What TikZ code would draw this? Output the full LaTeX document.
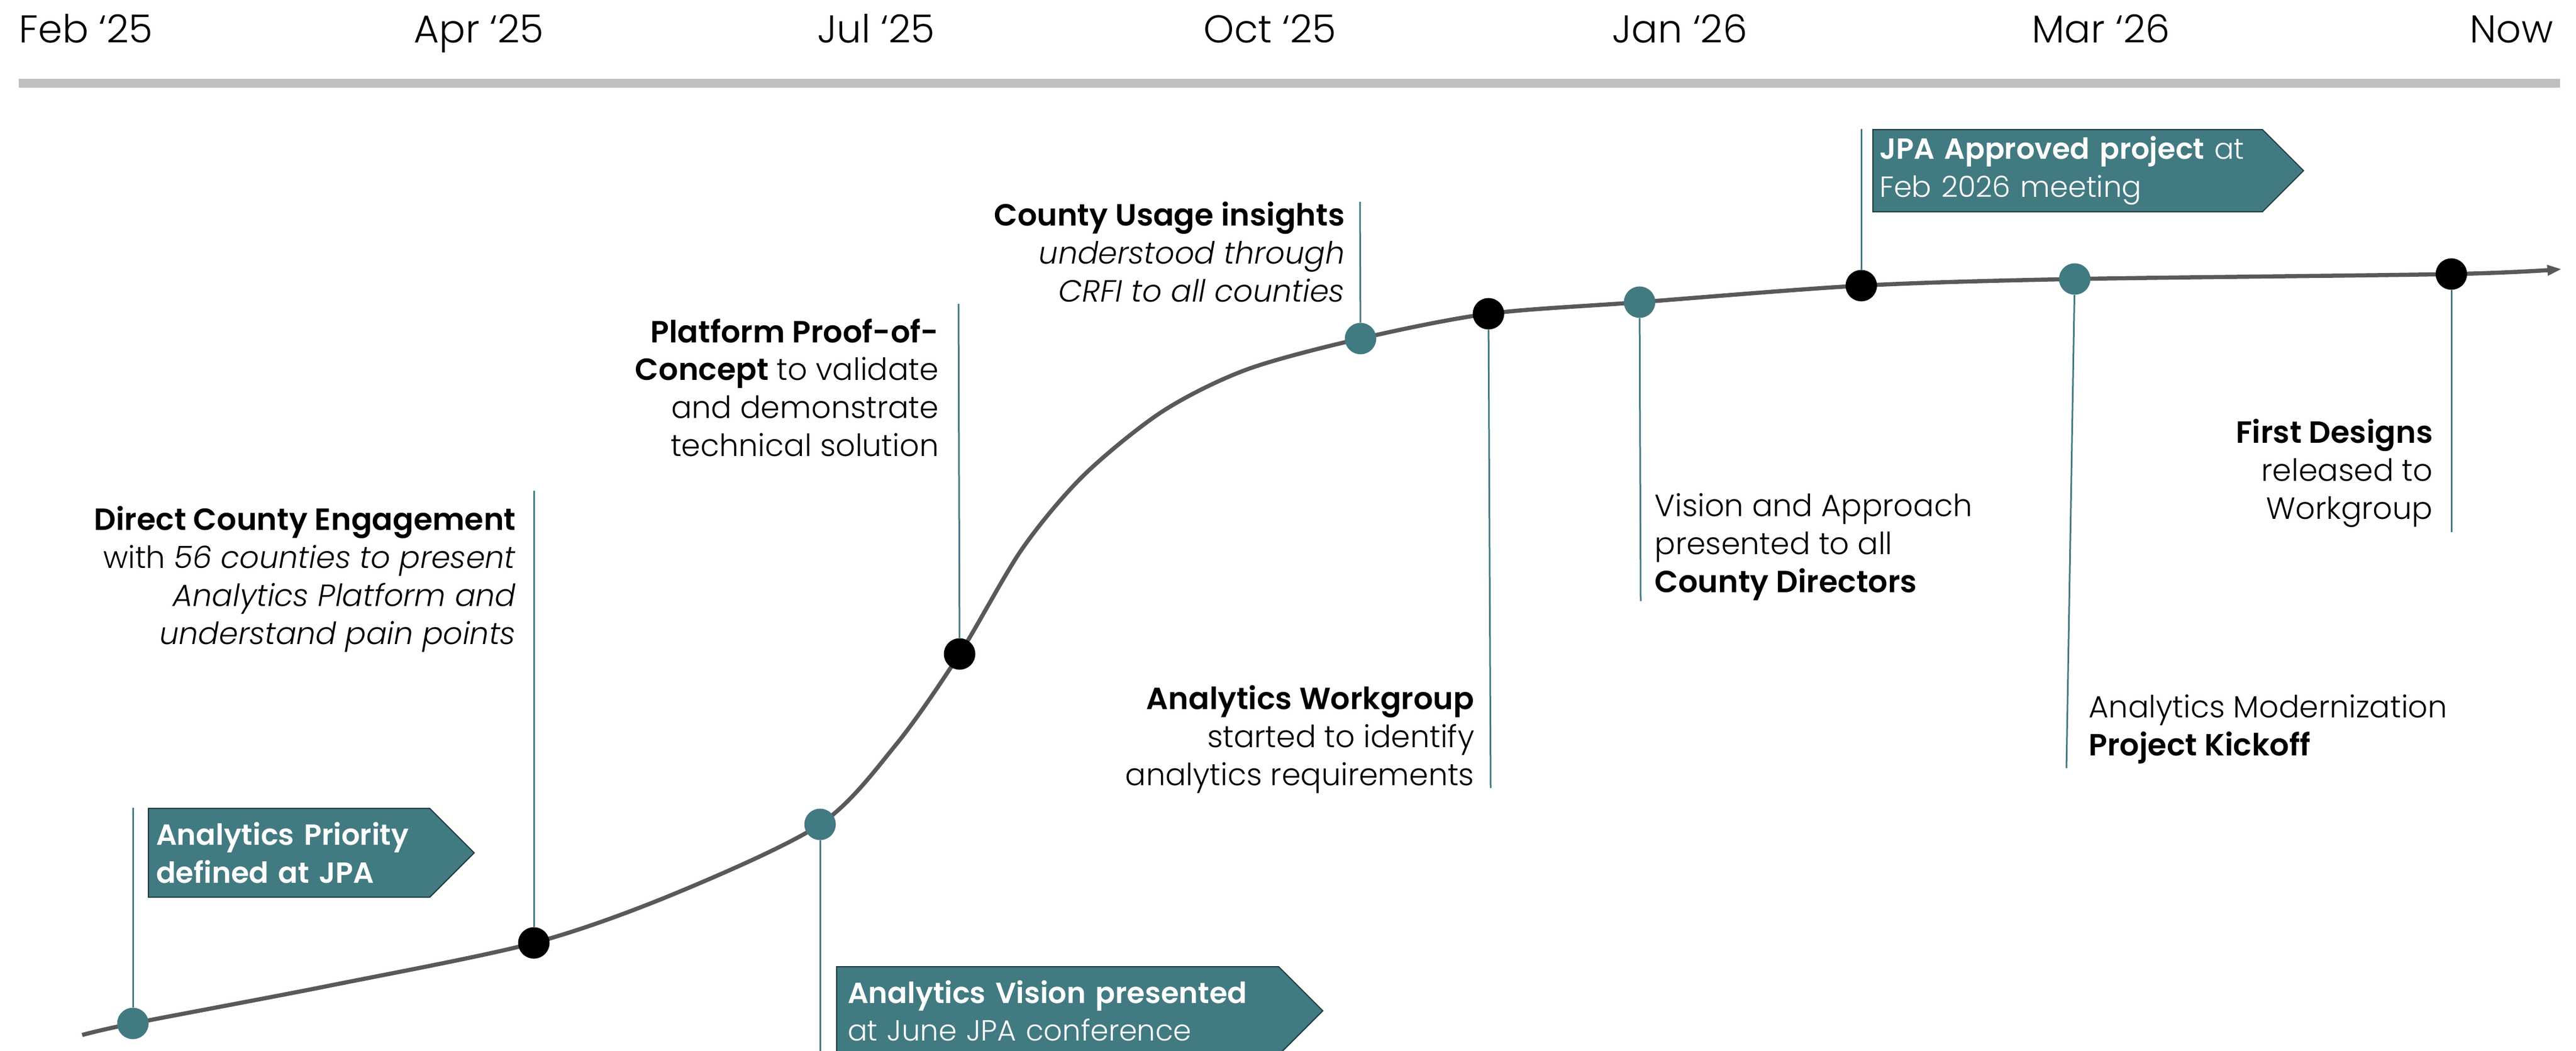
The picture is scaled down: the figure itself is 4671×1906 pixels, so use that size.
\documentclass[tikz,border=0pt]{standalone}
\usepackage{fontspec}
\setmainfont{Poppins}[UprightFont={* Light},ItalicFont={* Light Italic},BoldFont={* SemiBold},BoldItalicFont={* SemiBold Italic}]
\usepackage{xcolor}
\usetikzlibrary{shapes.symbols,arrows.meta,positioning,calc}
\definecolor{tealmark}{HTML}{427A82}
\definecolor{tealedge}{HTML}{1F3A3E}
\definecolor{trendgray}{HTML}{595959}
\definecolor{bargray}{HTML}{BFBFBF}

\begin{document}
\begin{tikzpicture}[x=0.01cm,y=-0.01cm,
  month/.style={anchor=base west,inner sep=0,font=\fontsize{20}{24}\selectfont},
  tealdot/.style={circle,fill=tealmark,inner sep=0,minimum size=0.57cm},
  blackdot/.style={circle,fill=black,inner sep=0,minimum size=0.57cm},
  stem/.style={draw=tealmark,line width=0.03cm},
  trend/.style={draw=trendgray,line width=0.075cm},
  note/.style={inner sep=0,font=\fontsize{15.8}{19.6}\selectfont},
  flag/.style={signal,signal to=east,signal pointer angle=90,fill=tealmark,
    draw=tealedge,line width=0.02cm,text=white,align=left,anchor=north west,
    inner ysep=0,font=\fontsize{15}{19.6}\selectfont}]
  \useasboundingbox (0,0) rectangle (4671,1906);
  \clip (0,0) rectangle (4671,1906);

  % months along the top
  \node[month] (feb) at (34,78) {Feb `25};
  \node[month] (apr) at (750,78) {Apr `25};
  \node[month] (jul) at (1482,78) {Jul `25};
  \node[month] (oct) at (2182,78) {Oct `25};
  \node[month] (jan) at (2923,78) {Jan `26};
  \node[month] (mar) at (3684,78) {Mar `26};
  \node[month,anchor=base east] (now) at (4630,78) {Now};
  \draw[bargray,line width=0.16cm] (34,151) -- (4642,151);

  % points on the curve
  \coordinate (p1) at (241,1856);
  \coordinate (p2) at (968,1710);
  \coordinate (p3) at (1487,1495);
  \coordinate (p4) at (1740,1186);
  \coordinate (p5) at (2467,614);
  \coordinate (p6) at (2699,569);
  \coordinate (p7) at (2973,548);
  \coordinate (p8) at (3375,518);
  \coordinate (p9) at (3762,506);
  \coordinate (p10) at (4445,497);
  \draw[trend,-{Triangle[length=0.26cm,width=0.18cm]}] plot[smooth,tension=0.5] coordinates {
    (149,1877) (p1) (600,1787) (p2) (1225,1620) (p3) (1625,1350) (p4) (1853,996)
    (1965,862) (2108,746) (2261,670) (p5) (p6) (p7) (p8) (p9) (p10) (4645,488)};

  \node[tealdot] (d1) at (p1) {};
  \node[blackdot] (d2) at (p2) {};
  \node[tealdot] (d3) at (p3) {};
  \node[blackdot] (d4) at (p4) {};
  \node[tealdot] (d5) at (p5) {};
  \node[blackdot] (d6) at (p6) {};
  \node[tealdot] (d7) at (p7) {};
  \node[blackdot] (d8) at (p8) {};
  \node[tealdot] (d9) at (p9) {};
  \node[blackdot] (d10) at (p10) {};

  % flags
  \node[flag,inner xsep=0.14cm,text width=4.82cm,minimum height=1.61cm] (priority) at (268,1465)
    {\textbf{Analytics Priority}\\\textbf{defined at JPA}};
  \node[flag,inner xsep=0.2cm,text width=7.61cm,minimum height=1.60cm] (vision) at (1516,1752)
    {\textbf{Analytics Vision presented}\\at June JPA conference};
  \node[flag,inner xsep=0.12cm,text width=6.82cm,minimum height=1.49cm] (approved) at (3395,234)
    {\textbf{JPA Approved project} at\\Feb 2026 meeting};

  % notes
  \node[note,anchor=north east,align=right] (engage) at (936,917)
    {\textbf{Direct County Engagement}\\with \textit{56 counties to present}\\\textit{Analytics Platform and}\\\textit{understand pain points}};
  \node[note,anchor=north east,align=right] (proof) at (1703,577)
    {\textbf{Platform Proof-of-}\\\textbf{Concept} to validate\\and demonstrate\\technical solution};
  \node[note,anchor=north east,align=right] (usage) at (2439,365)
    {\textbf{County Usage insights}\\\textit{understood through}\\\textit{CRFI to all counties}};
  \node[note,anchor=north east,align=right] (workgroup) at (2674,1242)
    {\textbf{Analytics Workgroup}\\started to identify\\analytics requirements};
  \node[note,anchor=north west,align=left] (approach) at (3000,894)
    {Vision and Approach\\presented to all\\\textbf{County Directors}};
  \node[note,anchor=north west,align=left] (kickoff) at (3787,1259)
    {Analytics Modernization\\\textbf{Project Kickoff}};
  \node[note,anchor=north east,align=right] (designs) at (4412,759)
    {\textbf{First Designs}\\released to\\Workgroup};

  % stems
  \coordinate (engage-top) at (968,890);
  \coordinate (vision-end) at (1487,1920);
  \coordinate (proof-top) at (1738,551);
  \coordinate (usage-top) at (2466,366);
  \coordinate (workgroup-end) at (2703,1429);
  \coordinate (approach-end) at (2975,1090);
  \coordinate (kickoff-end) at (3747,1393);
  \coordinate (designs-end) at (4445,965);
  \draw[stem] (d1) -- (d1 |- priority.north);
  \draw[stem] (d2) -- (engage-top);
  \draw[stem] (d3) -- (vision-end);
  \draw[stem] (d4) -- (proof-top);
  \draw[stem] (d5) -- (usage-top);
  \draw[stem] (d6) -- (workgroup-end);
  \draw[stem] (d7) -- (approach-end);
  \draw[stem] (d8) -- (d8 |- approved.north);
  \draw[stem] (d9) -- (kickoff-end);
  \draw[stem] (d10) -- (designs-end);
\end{tikzpicture}
\end{document}
